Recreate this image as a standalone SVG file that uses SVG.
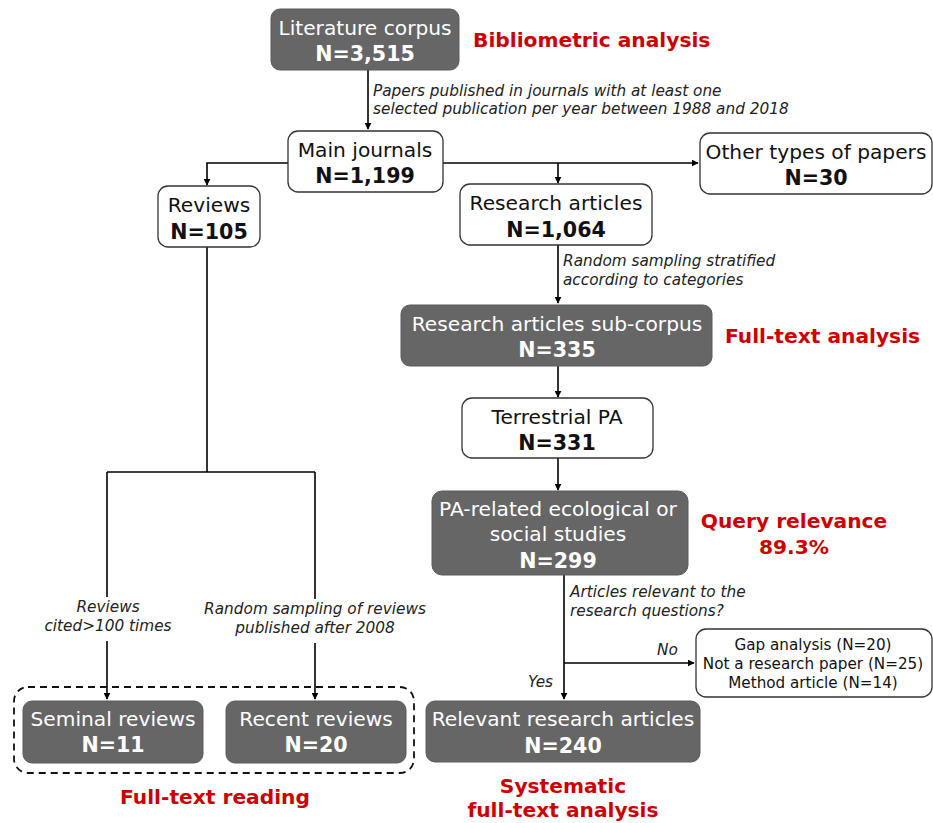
<svg xmlns="http://www.w3.org/2000/svg" width="933" height="823" viewBox="0 0 933 823">
<style>
text{font-family:"DejaVu Sans","Verdana",sans-serif;}
.dark{fill:#666666;stroke:#5a5a5a;stroke-width:1}
.light{fill:#ffffff;stroke:#333333;stroke-width:1.3}
.t{font-size:20.2px;text-anchor:middle;fill:#111}
.tb{font-size:20.6px;font-weight:bold;text-anchor:middle;fill:#111}
.w{fill:#ffffff}
.lab{font-size:15.3px;font-style:italic;fill:#222}
.red{font-size:20.2px;font-weight:bold;fill:#cc0000}
.small{font-size:15.2px;text-anchor:middle;fill:#111}
.ln{fill:none;stroke:#000;stroke-width:1.6}
</style>
<defs>
<marker id="ah" viewBox="0 0 10 10" refX="9" refY="5" markerWidth="7" markerHeight="7" markerUnits="userSpaceOnUse" orient="auto"><path d="M0,0 L10,5 L0,10 z" fill="#000"/></marker>
</defs>

<g id="connectors">
<path class="ln" d="M368,70 V129" marker-end="url(#ah)"/>
<path class="ln" d="M288,163 H207 V185" marker-end="url(#ah)"/>
<path class="ln" d="M443,163 H698" marker-end="url(#ah)"/>
<path class="ln" d="M558,163 V183" marker-end="url(#ah)"/>
<path class="ln" d="M558,245 V303" marker-end="url(#ah)"/>
<path class="ln" d="M558,366 V397" marker-end="url(#ah)"/>
<path class="ln" d="M558,458 V490" marker-end="url(#ah)"/>
<path class="ln" d="M564,575 V699" marker-end="url(#ah)"/>
<path class="ln" d="M564,663 H694" marker-end="url(#ah)"/>
<path class="ln" d="M207,247 V472"/>
<path class="ln" d="M107,472 H315"/>
<path class="ln" d="M107,472 V597"/>
<path class="ln" d="M107,641 V699" marker-end="url(#ah)"/>
<path class="ln" d="M315,472 V599"/>
<path class="ln" d="M315,643 V699" marker-end="url(#ah)"/>
<text class="lab" x="373" y="96">Papers published in journals with at least one</text>
<text class="lab" x="373" y="114">selected publication per year between 1988 and 2018</text>
<text class="lab" x="563" y="266">Random sampling stratified</text>
<text class="lab" x="563" y="285">according to categories</text>
<text class="lab" x="570" y="597">Articles relevant to the</text>
<text class="lab" x="570" y="616">research questions?</text>
<text class="lab" x="657" y="655">No</text>
<text class="lab" x="528" y="687">Yes</text>
<text class="lab" x="108" y="612" text-anchor="middle">Reviews</text>
<text class="lab" x="108" y="631" text-anchor="middle">cited&gt;100 times</text>
<text class="lab" x="315" y="614" text-anchor="middle">Random sampling of reviews</text>
<text class="lab" x="315" y="633" text-anchor="middle">published after 2008</text>
</g>

<g id="literature-corpus">
<rect class="dark" x="271" y="9" width="188" height="61" rx="9"/>
<text class="t w" x="365" y="35">Literature corpus</text>
<text class="tb w" x="365" y="61">N=3,515</text>
</g>
<text class="red" x="473" y="47">Bibliometric analysis</text>

<g id="main-journals">
<rect class="light" x="288" y="131" width="155" height="61" rx="10"/>
<text class="t" x="365" y="157">Main journals</text>
<text class="tb" x="365" y="183">N=1,199</text>
</g>

<g id="other-types">
<rect class="light" x="700" y="133" width="232" height="61" rx="10"/>
<text class="t" x="816" y="159">Other types of papers</text>
<text class="tb" x="816" y="185">N=30</text>
</g>

<g id="reviews">
<rect class="light" x="158" y="186" width="102" height="61" rx="10"/>
<text class="t" x="209" y="212">Reviews</text>
<text class="tb" x="209" y="239">N=105</text>
</g>

<g id="research-articles">
<rect class="light" x="460" y="184" width="192" height="61" rx="10"/>
<text class="t" x="556" y="210">Research articles</text>
<text class="tb" x="556" y="237">N=1,064</text>
</g>

<g id="sub-corpus">
<rect class="dark" x="401" y="305" width="311" height="61" rx="9"/>
<text class="t w" x="557" y="331">Research articles sub-corpus</text>
<text class="tb w" x="557" y="357">N=335</text>
</g>
<text class="red" x="725" y="343">Full-text analysis</text>

<g id="terrestrial-pa">
<rect class="light" x="462" y="398" width="191" height="60" rx="10"/>
<text class="t" x="557" y="424">Terrestrial PA</text>
<text class="tb" x="557" y="450">N=331</text>
</g>

<g id="pa-related">
<rect class="dark" x="432" y="491" width="256" height="84" rx="10"/>
<text class="t w" x="558" y="516">PA-related ecological or</text>
<text class="t w" x="558" y="541">social studies</text>
<text class="tb w" x="558" y="568">N=299</text>
</g>
<text class="red" x="794" y="528" text-anchor="middle">Query relevance</text>
<text class="red" x="794" y="554" text-anchor="middle">89.3%</text>

<g id="exclusions">
<rect class="light" x="696" y="629" width="236" height="68" rx="10"/>
<text class="small" x="813" y="650">Gap analysis (N=20)</text>
<text class="small" x="813" y="669">Not a research paper (N=25)</text>
<text class="small" x="813" y="688">Method article (N=14)</text>
</g>

<g id="relevant-articles">
<rect class="dark" x="426" y="701" width="274" height="61" rx="9"/>
<text class="t w" x="563" y="726">Relevant research articles</text>
<text class="tb w" x="563" y="753">N=240</text>
</g>
<text class="red" x="563" y="793" text-anchor="middle">Systematic</text>
<text class="red" x="563" y="817" text-anchor="middle">full-text analysis</text>

<g id="full-text-reading-group">
<rect x="14" y="687" width="400" height="86" rx="14" fill="none" stroke="#111" stroke-width="1.8" stroke-dasharray="7,5"/>
</g>

<g id="seminal-reviews">
<rect class="dark" x="23" y="701" width="180" height="62" rx="9"/>
<text class="t w" x="113" y="726">Seminal reviews</text>
<text class="tb w" x="113" y="752">N=11</text>
</g>

<g id="recent-reviews">
<rect class="dark" x="226" y="701" width="180" height="62" rx="9"/>
<text class="t w" x="316" y="726">Recent reviews</text>
<text class="tb w" x="316" y="752">N=20</text>
</g>
<text class="red" x="215" y="804" text-anchor="middle">Full-text reading</text>
</svg>
